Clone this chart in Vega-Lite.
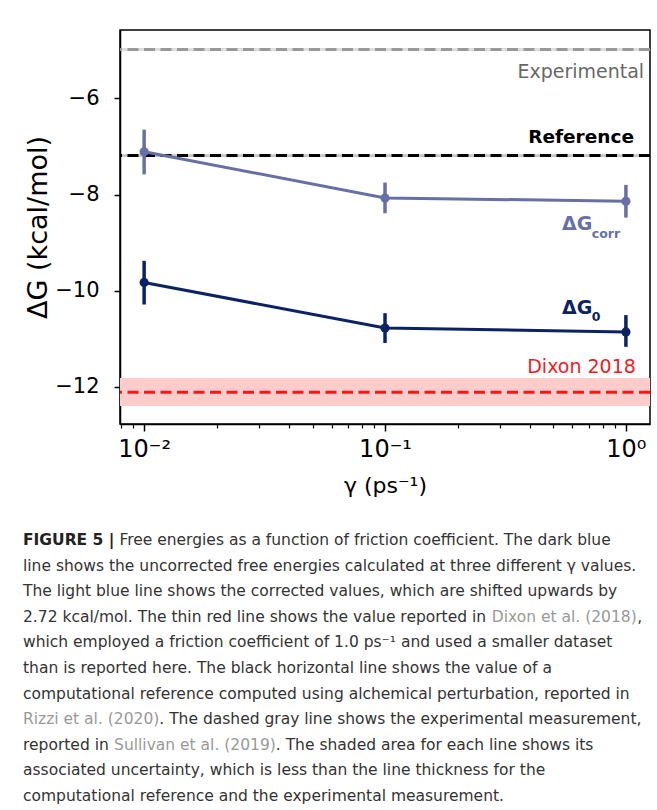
{
  "$schema": "https://vega.github.io/schema/vega-lite/v6.json",
  "background": "white",
  "padding": {"left": 23, "top": 29, "right": 0, "bottom": 0},
  "spacing": 36,
  "datasets": {
    "series": [
      {"series": "corr", "gamma": 0.01, "dg": -7.11, "lo": -7.58, "hi": -6.65},
      {"series": "corr", "gamma": 0.1, "dg": -8.07, "lo": -8.39, "hi": -7.75},
      {"series": "corr", "gamma": 1, "dg": -8.14, "lo": -8.48, "hi": -7.80},
      {"series": "g0", "gamma": 0.01, "dg": -9.83, "lo": -10.29, "hi": -9.38},
      {"series": "g0", "gamma": 0.1, "dg": -10.78, "lo": -11.09, "hi": -10.47},
      {"series": "g0", "gamma": 1, "dg": -10.86, "lo": -11.17, "hi": -10.51}
    ]
  },
  "config": {
    "font": "DejaVu Sans",
    "view": {"stroke": "black", "strokeWidth": 1.5},
    "axis": {
      "grid": false,
      "domainColor": "black",
      "domainWidth": 1.5,
      "tickColor": "black",
      "tickWidth": 1.5,
      "labelColor": "black",
      "titleColor": "black",
      "titleFontWeight": "normal",
      "labelFont": "DejaVu Sans",
      "titleFont": "DejaVu Sans"
    },
    "text": {"font": "DejaVu Sans"}
  },
  "vconcat": [
    {
      "width": 530,
      "height": 394,
      "resolve": {"scale": {"color": "independent"}, "axis": {"x": "independent"}},
      "layer": [
        {
          "data": {"values": [
            {"name": "Experimental", "lo": -5.01, "hi": -4.95},
            {"name": "Reference", "lo": -7.22, "hi": -7.16},
            {"name": "Dixon 2018", "lo": -12.40, "hi": -11.82}
          ]},
          "mark": {"type": "rect"},
          "encoding": {
            "y": {"field": "lo", "type": "quantitative",
                  "scale": {"domain": [-12.777, -4.575], "nice": false, "zero": false},
                  "axis": {"orient": "left", "values": [-6, -8, -10, -12], "title": "ΔG (kcal/mol)", "tickSize": 6, "labelPadding": 15, "labelFontSize": 21, "titleFontSize": 27, "titlePadding": 2}},
            "y2": {"field": "hi"},
            "color": {"field": "name", "type": "nominal", "legend": null,
                      "scale": {"domain": ["Experimental", "Reference", "Dixon 2018"], "range": ["#dddddd", "#c6c6c6", "#ffcccc"]}}
          }
        },
        {
          "data": {"values": [
            {"name": "Experimental", "val": -4.979},
            {"name": "Reference", "val": -7.19},
            {"name": "Dixon 2018", "val": -12.117}
          ]},
          "mark": {"type": "rule", "strokeWidth": 3, "strokeDash": [11, 5.5]},
          "encoding": {
            "y": {"field": "val", "type": "quantitative", "scale": {"domain": [-12.777, -4.575], "nice": false, "zero": false}},
            "color": {"field": "name", "type": "nominal", "legend": null,
                      "scale": {"domain": ["Experimental", "Reference", "Dixon 2018"], "range": ["#999999", "#000000", "#ff1414"]}}
          }
        },
        {
          "data": {"name": "series"},
          "mark": {"type": "rule", "strokeWidth": 3.5},
          "encoding": {
            "x": {"field": "gamma", "type": "quantitative",
                  "scale": {"type": "log", "domain": [0.00794, 1.259], "nice": false},
                  "axis": {"orient": "bottom", "values": [0.008, 0.009, 0.02, 0.03, 0.04, 0.05, 0.06, 0.07, 0.08, 0.09, 0.2, 0.3, 0.4, 0.5, 0.6, 0.7, 0.8, 0.9], "labels": false, "domain": false, "tickSize": 4, "tickWidth": 1.2, "title": null}},
            "y": {"field": "lo", "type": "quantitative", "scale": {"domain": [-12.777, -4.575], "nice": false, "zero": false}},
            "y2": {"field": "hi"},
            "color": {"field": "series", "type": "nominal", "legend": null,
                      "scale": {"domain": ["corr", "g0"], "range": ["#6670a6", "#0b2265"]}}
          }
        },
        {
          "data": {"name": "series"},
          "mark": {"type": "line", "strokeWidth": 3},
          "encoding": {
            "x": {"field": "gamma", "type": "quantitative",
                  "scale": {"type": "log", "domain": [0.00794, 1.259], "nice": false},
                  "axis": {"orient": "bottom", "values": [0.01, 0.1, 1], "labelExpr": "datum.value < 0.05 ? '10⁻²' : datum.value < 0.5 ? '10⁻¹' : '10⁰'", "tickSize": 7, "labelPadding": 6, "labelFontSize": 24, "labelFlush": false, "title": "γ (ps⁻¹)", "titleFontSize": 22, "titlePadding": 14}},
            "y": {"field": "dg", "type": "quantitative", "scale": {"domain": [-12.777, -4.575], "nice": false, "zero": false}},
            "color": {"field": "series", "type": "nominal", "legend": null,
                      "scale": {"domain": ["corr", "g0"], "range": ["#6670a6", "#0b2265"]}}
          }
        },
        {
          "data": {"name": "series"},
          "mark": {"type": "circle", "size": 85, "opacity": 1},
          "encoding": {
            "x": {"field": "gamma", "type": "quantitative", "scale": {"type": "log", "domain": [0.00794, 1.259], "nice": false}, "axis": null},
            "y": {"field": "dg", "type": "quantitative", "scale": {"domain": [-12.777, -4.575], "nice": false, "zero": false}},
            "color": {"field": "series", "type": "nominal", "legend": null,
                      "scale": {"domain": ["corr", "g0"], "range": ["#6670a6", "#0b2265"]}}
          }
        },
        {
          "data": {"values": [{"label": "Experimental", "gamma": 1.19, "dg": -5.57}]},
          "mark": {"type": "text", "align": "right", "baseline": "alphabetic", "fontSize": 19, "color": "#686868"},
          "encoding": {
            "x": {"field": "gamma", "type": "quantitative", "scale": {"type": "log", "domain": [0.00794, 1.259], "nice": false}, "axis": null},
            "y": {"field": "dg", "type": "quantitative", "scale": {"domain": [-12.777, -4.575], "nice": false, "zero": false}},
            "text": {"field": "label"}
          }
        },
        {
          "data": {"values": [{"label": "Reference", "gamma": 1.08, "dg": -6.917}]},
          "mark": {"type": "text", "align": "right", "baseline": "alphabetic", "fontSize": 18.5, "fontWeight": "bold", "color": "#000000"},
          "encoding": {
            "x": {"field": "gamma", "type": "quantitative", "scale": {"type": "log", "domain": [0.00794, 1.259], "nice": false}, "axis": null},
            "y": {"field": "dg", "type": "quantitative", "scale": {"domain": [-12.777, -4.575], "nice": false, "zero": false}},
            "text": {"field": "label"}
          }
        },
        {
          "data": {"values": [{"label": "Dixon 2018", "gamma": 1.10, "dg": -11.72}]},
          "mark": {"type": "text", "align": "right", "baseline": "alphabetic", "fontSize": 19, "color": "#ee1c25"},
          "encoding": {
            "x": {"field": "gamma", "type": "quantitative", "scale": {"type": "log", "domain": [0.00794, 1.259], "nice": false}, "axis": null},
            "y": {"field": "dg", "type": "quantitative", "scale": {"domain": [-12.777, -4.575], "nice": false, "zero": false}},
            "text": {"field": "label"}
          }
        },
        {
          "data": {"values": [
            {"series": "corr", "label": "ΔG", "gamma": 0.543, "dg": -8.74},
            {"series": "g0", "label": "ΔG", "gamma": 0.543, "dg": -10.48}
          ]},
          "mark": {"type": "text", "align": "left", "baseline": "alphabetic", "fontSize": 19, "fontWeight": "bold"},
          "encoding": {
            "x": {"field": "gamma", "type": "quantitative", "scale": {"type": "log", "domain": [0.00794, 1.259], "nice": false}, "axis": null},
            "y": {"field": "dg", "type": "quantitative", "scale": {"domain": [-12.777, -4.575], "nice": false, "zero": false}},
            "text": {"field": "label"},
            "color": {"field": "series", "type": "nominal", "legend": null,
                      "scale": {"domain": ["corr", "g0"], "range": ["#6670a6", "#0b2265"]}}
          }
        },
        {
          "data": {"values": [
            {"series": "corr", "label": "corr", "gamma": 0.722, "dg": -8.896},
            {"series": "g0", "label": "0", "gamma": 0.722, "dg": -10.63}
          ]},
          "mark": {"type": "text", "align": "left", "baseline": "alphabetic", "fontSize": 12.5, "fontWeight": "bold"},
          "encoding": {
            "x": {"field": "gamma", "type": "quantitative", "scale": {"type": "log", "domain": [0.00794, 1.259], "nice": false}, "axis": null},
            "y": {"field": "dg", "type": "quantitative", "scale": {"domain": [-12.777, -4.575], "nice": false, "zero": false}},
            "text": {"field": "label"},
            "color": {"field": "series", "type": "nominal", "legend": null,
                      "scale": {"domain": ["corr", "g0"], "range": ["#6670a6", "#0b2265"]}}
          }
        }
      ]
    },
    {
      "width": 520,
      "height": 256,
      "view": {"stroke": null},
      "encoding": {
        "x": {"datum": 0, "type": "quantitative", "scale": {"domain": [0, 1]}, "axis": null},
        "y": {"field": "line", "type": "quantitative", "scale": {"domain": [0, 10], "reverse": true, "nice": false, "zero": false}, "axis": null},
        "text": {"field": "text"}
      },
      "layer": [
        {
          "data": {"values": [
            {"line": 1, "text": "line shows the uncorrected free energies calculated at three different γ values."},
            {"line": 2, "text": "The light blue line shows the corrected values, which are shifted upwards by"},
            {"line": 3, "text": "2.72 kcal/mol. The thin red line shows the value reported in"},
            {"line": 4, "text": "which employed a friction coefficient of 1.0 ps⁻¹ and used a smaller dataset"},
            {"line": 5, "text": "than is reported here. The black horizontal line shows the value of a"},
            {"line": 6, "text": "computational reference computed using alchemical perturbation, reported in"},
            {"line": 8, "text": "reported in"},
            {"line": 9, "text": "associated uncertainty, which is less than the line thickness for the"},
            {"line": 10, "text": "computational reference and the experimental measurement."}
          ]},
          "mark": {"type": "text", "align": "left", "baseline": "alphabetic", "fontSize": 15.5, "color": "#333333", "dx": -97}
        },
        {
          "data": {"values": [{"line": 0, "text": "FIGURE 5 |"}]},
          "mark": {"type": "text", "align": "left", "baseline": "alphabetic", "fontSize": 15.5, "fontWeight": "bold", "color": "#222222", "dx": -97}
        },
        {
          "data": {"values": [{"line": 0, "text": "Free energies as a function of friction coefficient. The dark blue"}]},
          "mark": {"type": "text", "align": "left", "baseline": "alphabetic", "fontSize": 15.5, "color": "#333333", "dx": -0.6}
        },
        {
          "data": {"values": [{"line": 7, "text": "Rizzi et al. (2020)"}]},
          "mark": {"type": "text", "align": "left", "baseline": "alphabetic", "fontSize": 15.5, "color": "#999999", "dx": -97}
        },
        {
          "data": {"values": [{"line": 7, "text": ". The dashed gray line shows the experimental measurement,"}]},
          "mark": {"type": "text", "align": "left", "baseline": "alphabetic", "fontSize": 15.5, "color": "#333333", "dx": 39.3}
        },
        {
          "data": {"values": [{"line": 3, "text": "Dixon et al. (2018)"}]},
          "mark": {"type": "text", "align": "left", "baseline": "alphabetic", "fontSize": 15.5, "color": "#999999", "dx": 371.8}
        },
        {
          "data": {"values": [{"line": 3, "text": ","}]},
          "mark": {"type": "text", "align": "left", "baseline": "alphabetic", "fontSize": 15.5, "color": "#333333", "dx": 517.2}
        },
        {
          "data": {"values": [{"line": 8, "text": "Sullivan et al. (2019)"}]},
          "mark": {"type": "text", "align": "left", "baseline": "alphabetic", "fontSize": 15.5, "color": "#999999", "dx": -5.95}
        },
        {
          "data": {"values": [{"line": 8, "text": ". The shaded area for each line shows its"}]},
          "mark": {"type": "text", "align": "left", "baseline": "alphabetic", "fontSize": 15.5, "color": "#333333", "dx": 155.8}
        }
      ]
    }
  ]
}
